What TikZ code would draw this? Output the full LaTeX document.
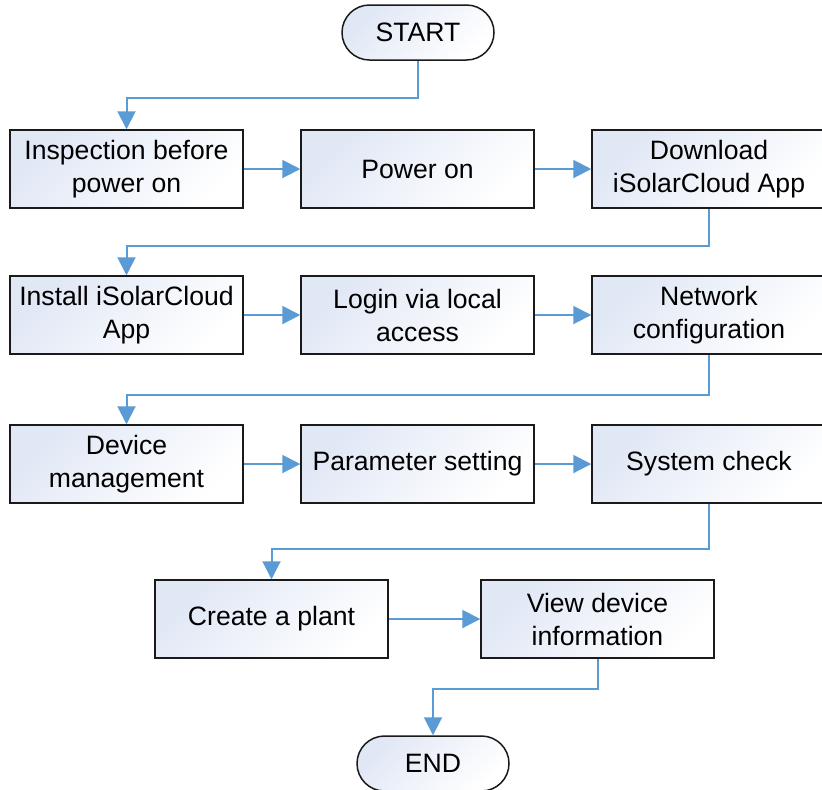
\documentclass[tikz,border=0pt]{standalone}
\usepackage{fontspec}
\setmainfont{Liberation Sans}
\usetikzlibrary{arrows.meta,shapes.misc}
\definecolor{ink}{HTML}{1A1A1A}
\definecolor{flowblue}{HTML}{5B9BD5}
\definecolor{boxtint}{HTML}{E0E7F5}
\tikzset{
  flowarr/.style={-{Triangle[length=9pt,width=9pt]},line width=1pt,color=flowblue},
  stepbox/.style={draw=ink,line width=0.75pt,top color=boxtint,bottom color=white,shading angle=45,
    minimum width=116.5pt,minimum height=39pt,align=center,inner sep=1pt,
    font=\fontsize{13.3}{16.5}\selectfont},
  termbox/.style={rounded rectangle,draw=ink,line width=0.75pt,top color=boxtint,bottom color=white,shading angle=45,
    minimum width=78pt,minimum height=27.5pt,inner sep=1pt,font=\fontsize{13.3}{16.5}\selectfont}
}
\begin{document}
\begin{tikzpicture}[x=0.5pt,y=-0.5pt]
  \clip (0,0) rectangle (822,789);
  \fill[white] (0,0) rectangle (822,789);
  % terminals
  \node[termbox] (start) at (418,32.5) {START};
  \node[termbox] (end) at (433,763.5) {END};
  % first row
  \node[stepbox] (inspect) at (126.5,169) {Inspection before\\power on};
  \node[stepbox] (power) at (417.5,169) {Power on};
  \node[stepbox,minimum width=117pt] (download) at (709,169) {Download\\iSolarCloud App};
  % second row
  \node[stepbox] (install) at (126.5,315) {Install iSolarCloud\\App};
  \node[stepbox] (login) at (417.5,315) {Login via local\\access};
  \node[stepbox,minimum width=117pt] (network) at (709,315) {Network\\configuration};
  % third row
  \node[stepbox] (device) at (126.5,464) {Device\\management};
  \node[stepbox] (param) at (417.5,464) {Parameter setting};
  \node[stepbox,minimum width=117pt] (syscheck) at (709,464) {System check};
  % fourth row
  \node[stepbox] (plant) at (271.5,619) {Create a plant};
  \node[stepbox] (viewinfo) at (597.5,619) {View device\\information};

  \draw[flowarr] (start.south) |- (126.5,98) -- (inspect.north);
  \draw[flowarr] (inspect) -- (power); \draw[flowarr] (power) -- (download);
  \draw[flowarr] (download.south) |- (126.5,246) -- (install.north);
  \draw[flowarr] (install) -- (login); \draw[flowarr] (login) -- (network);
  \draw[flowarr] (network.south) |- (126.5,395) -- (device.north);
  \draw[flowarr] (device) -- (param); \draw[flowarr] (param) -- (syscheck);
  \draw[flowarr] (syscheck.south) |- (271.5,549) -- (plant.north);
  \draw[flowarr] (plant) -- (viewinfo);
  \draw[flowarr] (viewinfo.south) |- (433,689) -- (end.north);
\end{tikzpicture}
\end{document}
